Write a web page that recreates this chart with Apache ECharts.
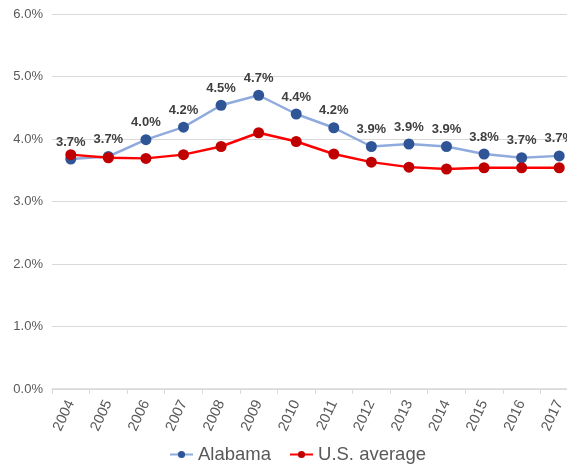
<!DOCTYPE html>
<html>
<head>
<meta charset="utf-8">
<script src="https://cdn.jsdelivr.net/npm/echarts@6/dist/echarts.min.js"></script>
<style>html,body{margin:0;padding:0;background:#fff;}#c{width:567px;height:466px;}</style>
</head>
<body>
<div id="c"></div>
<script>
var years = ['2004','2005','2006','2007','2008','2009','2010','2011','2012','2013','2014','2015','2016','2017'];
var alabama = [3.68,3.72,3.99,4.19,4.54,4.70,4.40,4.18,3.88,3.92,3.88,3.76,3.70,3.73];
var usAverage = [3.75,3.70,3.69,3.75,3.88,4.10,3.96,3.76,3.63,3.55,3.52,3.54,3.54,3.54];
var seriesNames = ['Alabama','U.S. average'];

var chart = echarts.init(document.getElementById('c'), null, {renderer:'canvas'});
var font = 'Liberation Sans, Arial, sans-serif';
chart.setOption({
  animation: false,
  textStyle: {fontFamily: font},
  grid: {left: 52, right: -11, top: 14, bottom: 77, containLabel: false, outerBoundsMode: 'none'},
  legend: {
    data: seriesNames,
    left: 164, top: 440,
    itemWidth: 23, itemHeight: 9, itemGap: 18,
    textStyle: {fontSize: 18.5, color: '#595959', fontFamily: font}
  },
  xAxis: {
    type: 'category',
    data: years,
    boundaryGap: true,
    axisLine: {lineStyle: {color: '#d9d9d9', width: 1.5}},
    axisTick: {show: true, length: 5, lineStyle: {color: '#d9d9d9'}},
    axisLabel: {rotate: 65, fontSize: 14.5, color: '#595959', margin: 12, fontFamily: font, interval: 0}
  },
  yAxis: {
    type: 'value',
    min: 0, max: 6, interval: 1,
    axisLine: {show: false},
    axisTick: {show: false},
    splitLine: {lineStyle: {color: '#d9d9d9', width: 1}},
    axisLabel: {fontSize: 13, color: '#595959', margin: 9, fontFamily: font,
      formatter: function(v){ return v.toFixed(1) + '%'; }}
  },
  series: [
    {
      name: seriesNames[0], type: 'line', data: alabama,
      symbol: 'circle', symbolSize: 11,
      lineStyle: {color: '#8FAADC', width: 2.5},
      itemStyle: {color: '#2F5597'},
      label: {show: true, position: 'top', distance: 5, fontSize: 13, fontWeight: 'bold', color: '#404040', fontFamily: font,
        formatter: function(p){ return p.value.toFixed(1) + '%'; }}
    },
    {
      name: seriesNames[1], type: 'line', data: usAverage,
      symbol: 'circle', symbolSize: 11,
      lineStyle: {color: '#FF0000', width: 2.5},
      itemStyle: {color: '#C00000'}
    }
  ]
});
</script>
</body>
</html>
